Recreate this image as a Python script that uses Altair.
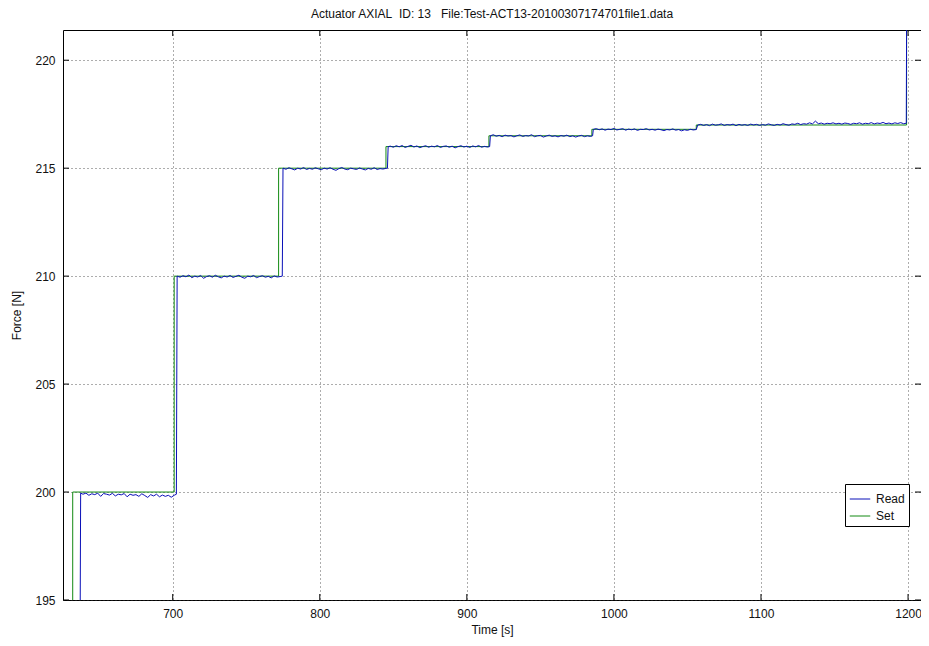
import altair as alt
import pandas as pd

# ---------------- data ----------------
set_t = [632, 632, 701, 701, 772, 772, 845, 845, 915, 915, 985, 985, 1056, 1056, 1199, 1199]
set_v = [190, 200, 200, 210, 210, 215, 215, 216, 216, 216.5, 216.5, 216.8, 216.8, 217.0, 217.0, 226]

read_t = [
    637.0, 637.4, 639, 641, 643, 645, 647, 649, 651, 653, 655, 657, 659, 661, 663, 665, 667, 669,
    671, 673, 675, 677, 679, 681, 683, 685, 687, 689, 691, 693, 695, 697, 699, 701, 702.5,
    703.0, 705, 707, 709, 711, 713, 715, 717, 719, 721, 723, 725, 727, 729, 731, 733, 735, 737,
    739, 741, 743, 745, 747, 749, 751, 753, 755, 757, 759, 761, 763, 765, 767, 769, 771, 773, 774.5,
    775, 777, 779, 781, 783, 785, 787, 789, 791, 793, 795, 797, 799, 801, 803, 805, 807, 809, 811,
    813, 815, 817, 819, 821, 823, 825, 827, 829, 831, 833, 835, 837, 839, 841, 843, 845, 846,
    846.5, 848, 850, 852, 854, 856, 858, 860, 862, 864, 866, 868, 870, 872, 874, 876, 878, 880,
    882, 884, 886, 888, 890, 892, 894, 896, 898, 900, 902, 904, 906, 908, 910, 912, 914, 915.5,
    916, 918, 920, 922, 924, 926, 928, 930, 932, 934, 936, 938, 940, 942, 944, 946, 948, 950, 952,
    954, 956, 958, 960, 962, 964, 966, 968, 970, 972, 974, 976, 978, 980, 982, 984, 985.5,
    986, 988, 990, 992, 994, 996, 998, 1000, 1002, 1004, 1006, 1008, 1010, 1012, 1014, 1016, 1018,
    1020, 1022, 1024, 1026, 1028, 1030, 1032, 1034, 1036, 1038, 1040, 1042, 1044, 1046, 1048,
    1050, 1052, 1054, 1056,
    1057, 1059, 1061, 1063, 1065, 1067, 1069, 1071, 1073, 1075, 1077, 1079, 1081, 1083, 1085,
    1087, 1089, 1091, 1093, 1095, 1097, 1099, 1101, 1103, 1105, 1107, 1109, 1111, 1113, 1115,
    1117, 1119, 1121, 1123, 1125, 1127, 1129, 1131, 1133, 1135, 1137, 1139, 1141, 1143, 1145,
    1147, 1149, 1151, 1153, 1155, 1157, 1159, 1161, 1163, 1165, 1167, 1169, 1171, 1173, 1175,
    1177, 1179, 1181, 1183, 1185, 1187, 1189, 1191, 1193, 1195, 1197, 1198.8, 1199.2,
]
read_v = [
    193.0, 199.95, 199.90, 199.95, 199.85, 199.92, 199.88, 199.95, 199.80, 199.93, 199.90, 199.86,
    199.94, 199.82, 199.90, 199.87, 199.93, 199.78, 199.90, 199.85, 199.88, 199.80, 199.92, 199.84,
    199.75, 199.88, 199.82, 199.90, 199.78, 199.86, 199.80, 199.85, 199.76, 199.85, 199.90,
    210.0, 209.95, 210.02, 209.97, 210.05, 209.93, 210.0, 209.96, 210.03, 209.90, 209.98, 210.02,
    209.95, 210.04, 209.97, 209.92, 210.0, 209.96, 210.03, 209.94, 209.99, 210.04, 209.95, 209.90,
    210.0, 209.97, 210.03, 209.93, 209.98, 210.02, 209.95, 209.99, 209.92, 210.01, 209.96, 209.98, 210.0,
    215.0, 214.95, 215.02, 214.97, 214.92, 215.0, 214.96, 215.03, 214.94, 214.99, 214.95, 215.02,
    214.97, 214.93, 215.0, 214.96, 215.02, 214.95, 214.90, 214.98, 215.03, 214.96, 214.93, 215.0,
    214.97, 214.94, 215.01, 214.96, 214.92, 214.99, 214.95, 215.02, 214.94, 214.98, 214.96, 214.99, 215.0,
    216.0, 216.02, 215.97, 216.04, 215.99, 216.05, 215.96, 216.01, 216.06, 215.98, 216.03, 215.95,
    216.0, 216.04, 215.97, 216.02, 215.99, 216.05, 215.96, 216.01, 216.03, 215.97, 216.02, 215.94,
    216.0, 216.04, 215.98, 216.02, 215.96, 216.03, 215.99, 216.05, 215.97, 216.01, 215.98, 216.0,
    216.5, 216.55, 216.48, 216.52, 216.46, 216.53, 216.49, 216.51, 216.45, 216.5, 216.54, 216.47,
    216.51, 216.49, 216.55, 216.46, 216.5, 216.52, 216.44, 216.49, 216.53, 216.47, 216.5, 216.45,
    216.51, 216.48, 216.53, 216.46, 216.5, 216.44, 216.49, 216.52, 216.46, 216.5, 216.47, 216.5,
    216.8, 216.83, 216.78, 216.82, 216.76, 216.81, 216.79, 216.84, 216.77, 216.8, 216.83, 216.76,
    216.81, 216.78, 216.82, 216.75, 216.8, 216.79, 216.83, 216.77, 216.8, 216.76, 216.81, 216.78,
    216.74, 216.79, 216.77, 216.82, 216.76, 216.79, 216.73, 216.78, 216.75, 216.8, 216.77, 216.79,
    217.0, 217.03, 216.98, 217.02, 216.97, 217.04, 216.99, 217.01, 217.05, 216.98, 217.02, 217.0,
    217.04, 216.97, 217.03, 216.99, 217.02, 216.98, 217.04, 217.0, 217.03, 216.98, 217.02, 216.99,
    217.05, 217.01, 216.98, 217.03, 217.0, 217.06, 217.02, 216.99, 217.05, 217.03, 217.08, 217.02,
    217.06, 217.04, 217.1, 217.05, 217.18, 217.06, 217.09, 217.04, 217.08, 217.06, 217.1, 217.05,
    217.08, 217.04, 217.09, 217.07, 217.03, 217.08, 217.06, 217.1, 217.04, 217.08, 217.06, 217.11,
    217.05, 217.09, 217.07, 217.12, 217.06, 217.09, 217.05, 217.1, 217.07, 217.11, 217.06, 217.08, 226.0,
]

x_ticks = [700, 800, 900, 1000, 1100, 1200]
y_ticks = [195, 200, 205, 210, 215, 220]

series_names = ["Read", "Set"]
series_colors = ["#0a10b8", "#138a13"]

TITLE = "Actuator AXIAL\u00a0\u00a0ID: 13\u00a0\u00a0\u00a0File:Test-ACT13-20100307174701file1.data"

W, H = 858, 570
FONT = "Liberation Sans"

set_df = pd.DataFrame({"t": set_t, "v": set_v, "i": list(range(len(set_t))), "s": "Set"})
read_df = pd.DataFrame({"t": read_t, "v": read_v, "i": list(range(len(read_t))), "s": "Read"})
xt_df = pd.DataFrame({"t": x_ticks})
yt_df = pd.DataFrame({"v": y_ticks})

xscale = alt.Scale(domain=[625.4, 1208.8], nice=False, zero=False)
yscale = alt.Scale(domain=[195, 221.4], nice=False, zero=False)
cscale = alt.Scale(domain=series_names, range=series_colors)

x_enc = alt.X("t:Q", scale=xscale,
              axis=alt.Axis(values=x_ticks, title="Time [s]", grid=True, gridDash=[1, 3],
                            gridColor="#333", gridOpacity=0.8, ticks=False, tickSize=0,
                            domain=False, labelPadding=8, titlePadding=5, format="d"))
y_enc = alt.Y("v:Q", scale=yscale,
              axis=alt.Axis(values=y_ticks, title="Force [N]", grid=True, gridDash=[1, 3],
                            gridColor="#333", gridOpacity=0.8, ticks=False, tickSize=0,
                            domain=False, labelPadding=8, titlePadding=11, format="d"))

legend = alt.Legend(title=None, orient="none", legendX=782, legendY=454,
                    strokeColor="#000", fillColor="#fff", padding=4,
                    symbolType="stroke", symbolSize=420, symbolStrokeWidth=1,
                    labelFontSize=12, labelFont=FONT, labelColor="#111",
                    labelOffset=5, rowPadding=0)

set_line = alt.Chart(set_df).mark_line(clip=True, strokeWidth=1).encode(
    x=x_enc, y=y_enc, order="i:Q",
    color=alt.Color("s:N", scale=cscale, legend=legend),
)
read_line = alt.Chart(read_df).mark_line(clip=True, strokeWidth=1).encode(
    x=alt.X("t:Q", scale=xscale), y=alt.Y("v:Q", scale=yscale), order="i:Q",
    color=alt.Color("s:N", scale=cscale, legend=legend),
)

TK = 6
xt_bottom = alt.Chart(xt_df).mark_rule(color="#000", strokeWidth=1).encode(
    x=alt.X("t:Q", scale=xscale), y=alt.value(H), y2=alt.value(H - TK))
xt_top = alt.Chart(xt_df).mark_rule(color="#000", strokeWidth=1).encode(
    x=alt.X("t:Q", scale=xscale), y=alt.value(0), y2=alt.value(TK))
yt_left = alt.Chart(yt_df).mark_rule(color="#000", strokeWidth=1).encode(
    y=alt.Y("v:Q", scale=yscale), x=alt.value(0), x2=alt.value(TK))
yt_right = alt.Chart(yt_df).mark_rule(color="#000", strokeWidth=1).encode(
    y=alt.Y("v:Q", scale=yscale), x=alt.value(W), x2=alt.value(W - TK))

chart = alt.layer(set_line, read_line, xt_bottom, xt_top, yt_left, yt_right).properties(
    width=W, height=H,
    title=alt.Title(TITLE, fontSize=12, font=FONT, fontWeight="normal", color="#111", offset=9),
    autosize=alt.AutoSizeParams(type="none"),
    padding={"left": 55, "top": 22, "right": 0, "bottom": 38},
).configure_view(
    stroke="#000", strokeWidth=1
).configure_axis(
    labelFont=FONT, labelFontSize=12, labelColor="#111",
    titleFont=FONT, titleFontSize=12, titleColor="#111", titleFontWeight="normal",
)

chart.save("out.html", embed_options={"renderer": "svg", "actions": False})
